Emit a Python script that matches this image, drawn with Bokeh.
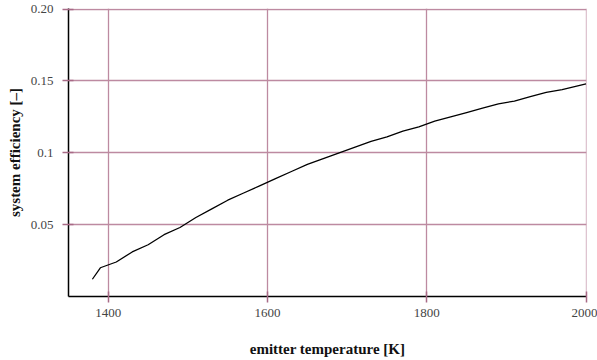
from bokeh.plotting import figure
from bokeh.models import FixedTicker, Range1d
from bokeh.embed import file_html
from bokeh.resources import INLINE

temperature = [1380, 1390, 1410, 1430, 1450, 1470, 1490, 1510, 1530, 1550, 1570, 1590,
               1610, 1630, 1650, 1670, 1690, 1710, 1730, 1750, 1770, 1790, 1810, 1830,
               1850, 1870, 1890, 1910, 1930, 1950, 1970, 2000]
efficiency = [0.012, 0.020, 0.024, 0.031, 0.036, 0.043, 0.048, 0.055, 0.061, 0.067, 0.072, 0.077,
              0.082, 0.087, 0.092, 0.096, 0.100, 0.104, 0.108, 0.111, 0.115, 0.118, 0.122, 0.125,
              0.128, 0.131, 0.134, 0.136, 0.139, 0.142, 0.144, 0.148]

x_ticks = [1400, 1600, 1800, 2000]
x_tick_labels = ["1400", "1600", "1800", "2000"]
y_ticks = [0.05, 0.1, 0.15, 0.2]
y_tick_labels = ["0.05", "0.1", "0.15", "0.20"]

grid_color = "#bd8aa1"
tick_color = "#a86a86"
font = "Liberation Serif"

p = figure(width=597, height=360, output_backend="svg", toolbar_location=None,
           x_range=Range1d(1350, 2000.6), y_range=Range1d(0, 0.2004),
           min_border_left=68, min_border_right=11, min_border_top=8, min_border_bottom=64)
p.outline_line_color = None
p.background_fill_color = "white"
p.border_fill_color = "white"

p.line(temperature, efficiency, line_color="black", line_width=1.3)

for ax in (p.xaxis[0], p.yaxis[0]):
    ax.axis_line_color = "black"
    ax.axis_line_width = 1.5
    ax.major_tick_line_color = tick_color
    ax.major_tick_line_width = 1.5
    ax.major_tick_in = 5
    ax.major_tick_out = 6
    ax.minor_tick_line_color = None
    ax.major_label_text_font = font
    ax.major_label_text_font_size = "13px"
    ax.major_label_text_color = "#444444"
    ax.axis_label_text_font = font
    ax.axis_label_text_font_size = "15px"
    ax.axis_label_text_font_style = "bold"
    ax.axis_label_text_color = "#111111"

p.xaxis.ticker = FixedTicker(ticks=x_ticks)
p.xaxis.major_label_overrides = {t: l for t, l in zip(x_ticks, x_tick_labels)}
p.yaxis.ticker = FixedTicker(ticks=y_ticks)
p.yaxis.major_label_overrides = {t: l for t, l in zip(y_ticks, y_tick_labels)}
p.xaxis.axis_label = "emitter temperature [K]"
p.yaxis.axis_label = "system efficiency [–]"
p.xaxis.major_label_standoff = 6
p.xaxis.axis_label_standoff = 21
p.yaxis.major_label_standoff = 9
p.yaxis.axis_label_standoff = 5

p.xgrid.grid_line_color = grid_color
p.ygrid.grid_line_color = grid_color
p.xgrid.grid_line_width = 1.3
p.ygrid.grid_line_width = 1.3

open("out.html", "w").write(file_html(p, INLINE))
